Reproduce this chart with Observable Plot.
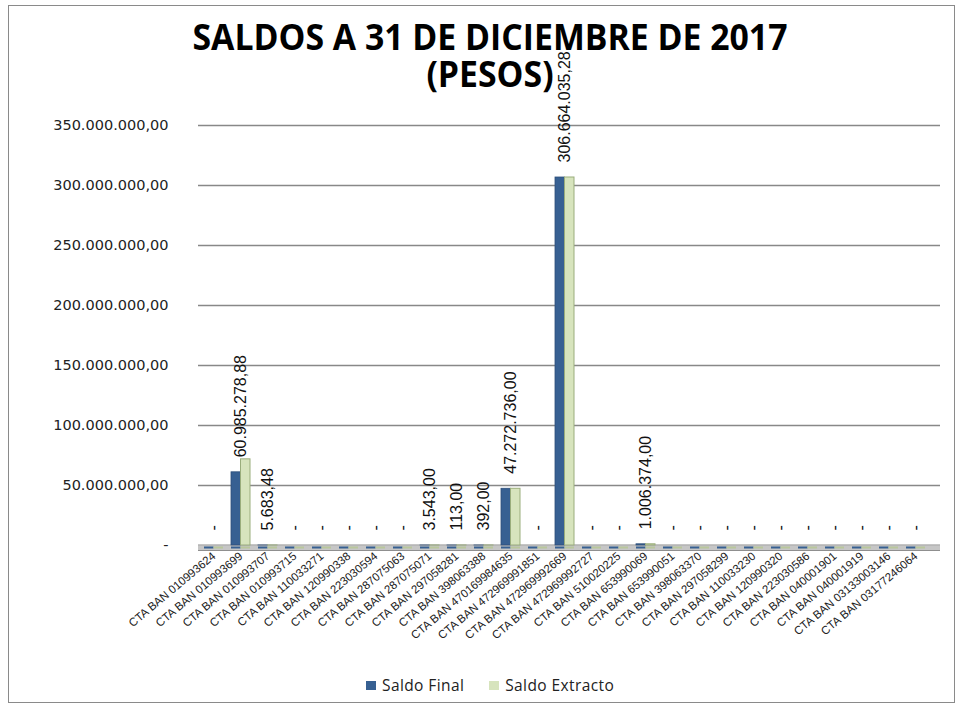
<!DOCTYPE html>
<html>
<head>
<meta charset="utf-8">
<script src="https://cdn.jsdelivr.net/npm/d3@7"></script>
<script src="https://cdn.jsdelivr.net/npm/@observablehq/plot@0.6"></script>
<style>
  body { margin: 0; background: #fff; }
  #wrap { position: relative; width: 963px; height: 709px; overflow: hidden; background: #fff; }
  #border { position: absolute; left: 8px; top: 5px; width: 947px; height: 698px; border: 1px solid #8a8a8a; box-sizing: border-box; }
  #chart { position: absolute; left: 0; top: 0; }
  #title { position: absolute; left: 490px; top: 18px; white-space: nowrap; text-align: center; font-family: "Open Sans", sans-serif; font-weight: 700; font-size: 35px; line-height: 37px; color: #000; z-index: 2; }
  #legend { position: absolute; top: 674px; left: 366px; display: flex; align-items: center; font-family: "Open Sans", sans-serif; font-size: 15.5px; letter-spacing: 0.4px; color: #222; }
  .sw { width: 10px; height: 9px; display: inline-block; margin-right: 6px; }
</style>
</head>
<body>
<div id="wrap">
  <div id="border"></div>
  <div id="chart"></div>
  <div id="title">SALDOS A 31 DE DICIEMBRE DE 2017<br>(PESOS)</div>
  <div id="legend"></div>
</div>
<script>
const categories = [
  "CTA BAN 010993624", "CTA BAN 010993699", "CTA BAN 010993707", "CTA BAN 010993715",
  "CTA BAN 110033271", "CTA BAN 120990338", "CTA BAN 223030594", "CTA BAN 287075063",
  "CTA BAN 287075071", "CTA BAN 297058281", "CTA BAN 398063388", "CTA BAN 470169984635",
  "CTA BAN 472969991851", "CTA BAN 472969992669", "CTA BAN 472969992727", "CTA BAN 510020225",
  "CTA BAN 653990069", "CTA BAN 653990051", "CTA BAN 398063370", "CTA BAN 297058299",
  "CTA BAN 110033230", "CTA BAN 120990320", "CTA BAN 223030586", "CTA BAN 040001901",
  "CTA BAN 040001919", "CTA BAN 03133003146", "CTA BAN 03177246064"
];
const saldoFinal = [
  0, 60985278.88, 5683.48, 0,
  0, 0, 0, 0,
  3543, 113, 392, 47272736,
  0, 306664035.28, 0, 0,
  1006374, 0, 0, 0,
  0, 0, 0, 0,
  0, 0, 0
];
const saldoExtracto = [
  0, 71800000, 5683.48, 0,
  0, 0, 0, 0,
  3543, 113, 392, 47272736,
  0, 306664035.28, 0, 0,
  1006374, 0, 0, 0,
  0, 0, 0, 0,
  0, 0, 0
];
const seriesNames = ["Saldo Final", "Saldo Extracto"];
const seriesColors = ["#376092", "#D7E4BD"];
const yTicks = [0, 50000000, 100000000, 150000000, 200000000, 250000000, 300000000, 350000000];

const loc = d3.formatLocale({decimal: ",", thousands: ".", grouping: [3], currency: ["$", ""]});
const f2 = loc.format(",.2f");
const fmt = v => v === 0 ? "-" : f2(v);

const rows = categories.map((c, i) => ({category: c, final: saldoFinal[i], extracto: saldoExtracto[i]}));

const half = 9.5;
const chart = Plot.plot({
  width: 963,
  height: 660,
  marginTop: 125,
  marginBottom: 115,
  marginLeft: 198,
  marginRight: 23,
  style: {fontFamily: "Liberation Sans, Arial, sans-serif", background: "transparent", overflow: "visible"},
  x: {type: "band", domain: categories, range: [198, 930], paddingInner: 0.3, paddingOuter: 0.17},
  y: {domain: [0, 350000000], range: [545, 125]},
  marks: [
    Plot.gridY(yTicks, {stroke: "#888", strokeOpacity: 1, strokeWidth: 1.3}),
    Plot.axisY(yTicks, {tickFormat: fmt, tickSize: 0, tickPadding: 30, fontSize: 14.5, fontFamily: "DejaVu Sans, Verdana, sans-serif", letterSpacing: "1.5px", fill: "#222", label: null}),
    Plot.axisX({tickRotate: -40, tickSize: 0, tickPadding: 9, fontSize: 11.5, fill: "#222", label: null}),
    Plot.ruleY([0], {stroke: "#c6c6c6", strokeWidth: 5, dy: 2}),
    Plot.ruleY([0], {stroke: "#8f8f8f", strokeWidth: 1, dy: 5}),
    Plot.ruleY([0], {stroke: "#a8a8a8", strokeWidth: 1, dy: -0.5}),
    Plot.tickY(rows, {x: "category", y: () => 0, stroke: seriesColors[0], strokeWidth: 2, insetRight: half, dy: 2}),
    Plot.tickY(rows, {x: "category", y: () => 0, stroke: "#b9c79c", strokeWidth: 2, insetLeft: half, dy: 2}),
    Plot.barY(rows, {x: "category", y: "final", fill: seriesColors[0], stroke: "#2d4f7a", strokeWidth: 0.8, insetRight: half}),
    Plot.barY(rows, {x: "category", y: "extracto", fill: seriesColors[1], stroke: "#9aad7c", strokeWidth: 1, insetLeft: half}),
    Plot.text(rows, {x: "category", y: "final", text: d => fmt(d.final), rotate: -90, textAnchor: "start", dy: -15, fontSize: 16, fill: "#111"})
  ]
});
document.getElementById("chart").appendChild(chart);

// title: fit width like the reference
const title = document.getElementById("title");
const k = 595 / title.getBoundingClientRect().width;
title.style.transform = `translateX(-50%) scaleX(${k})`;

// legend
const legend = document.getElementById("legend");
seriesNames.forEach((name, i) => {
  const item = document.createElement("span");
  item.style.display = "inline-flex";
  item.style.alignItems = "center";
  item.style.marginRight = i === 0 ? "25px" : "0";
  const sw = document.createElement("span");
  sw.className = "sw";
  sw.style.background = seriesColors[i];
  item.appendChild(sw);
  item.appendChild(document.createTextNode(name));
  legend.appendChild(item);
});
</script>
</body>
</html>
